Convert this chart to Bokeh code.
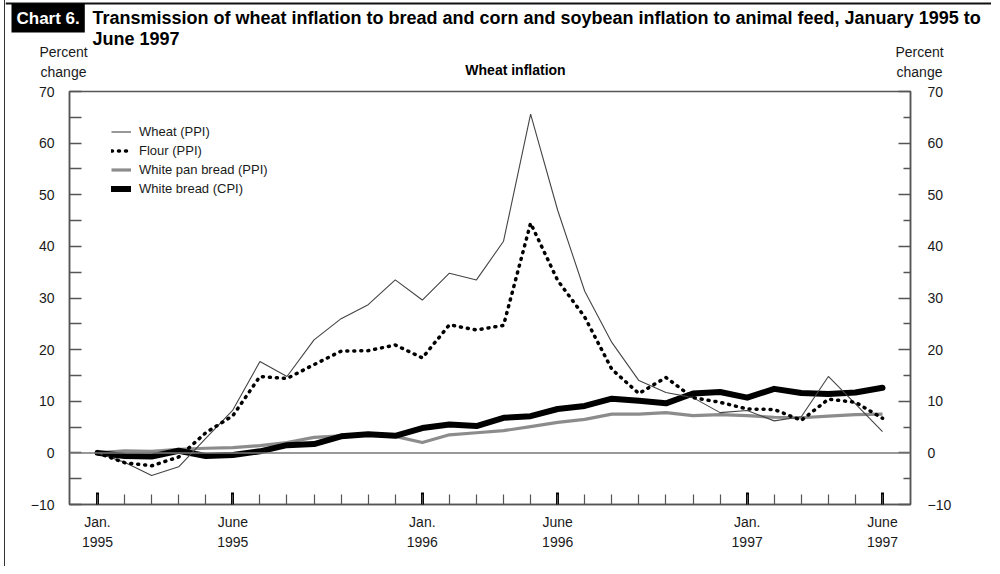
from bokeh.plotting import figure
from bokeh.layouts import column
from bokeh.models import (Range1d, LinearAxis, FixedTicker, Span, Label, Legend,
                          LegendItem, ColumnDataSource)
from bokeh.embed import file_html
from bokeh.resources import INLINE

# ---------------- data ----------------
month_labels = ["Jan 1995", "Feb 1995", "Mar 1995", "Apr 1995", "May 1995", "Jun 1995",
                "Jul 1995", "Aug 1995", "Sep 1995", "Oct 1995", "Nov 1995", "Dec 1995",
                "Jan 1996", "Feb 1996", "Mar 1996", "Apr 1996", "May 1996", "Jun 1996",
                "Jul 1996", "Aug 1996", "Sep 1996", "Oct 1996", "Nov 1996", "Dec 1996",
                "Jan 1997", "Feb 1997", "Mar 1997", "Apr 1997", "May 1997", "Jun 1997"]
month_index = list(range(len(month_labels)))

wheat = [0.0, -1.8, -4.4, -2.7, 2.8, 8.3, 17.7, 14.8, 21.9, 26.0, 28.7, 33.5, 29.6, 34.8, 33.5,
         41.0, 65.6, 47.0, 31.3, 21.4, 14.0, 11.7, 10.7, 7.8, 8.2, 6.2, 7.0, 14.8, 9.5, 4.1]
flour = [0.0, -1.9, -2.5, -0.8, 3.9, 7.2, 14.8, 14.4, 17.1, 19.7, 19.8, 20.9, 18.4, 24.8, 23.8,
         24.7, 44.5, 33.4, 26.3, 16.2, 11.5, 14.6, 10.7, 9.8, 8.5, 8.4, 6.3, 10.4, 9.8, 6.7]
pan_bread = [0.0, 0.4, 0.3, 0.7, 0.9, 1.0, 1.4, 2.0, 3.0, 3.3, 3.7, 3.2, 2.0, 3.5, 3.9,
             4.3, 5.1, 5.9, 6.5, 7.5, 7.5, 7.8, 7.2, 7.4, 7.2, 6.9, 6.8, 7.1, 7.4, 7.5]
white_bread = [0.0, -0.6, -0.7, 0.4, -0.6, -0.4, 0.3, 1.5, 1.7, 3.2, 3.6, 3.3, 4.8, 5.5, 5.2,
               6.8, 7.1, 8.5, 9.1, 10.5, 10.1, 9.6, 11.5, 11.8, 10.7, 12.4, 11.6, 11.4, 11.7, 12.6]

series_names = ["Wheat (PPI)", "Flour (PPI)", "White pan bread (PPI)", "White bread (CPI)"]

y_major_ticks = [-10, 0, 10, 20, 30, 40, 50, 60, 70]
y_minor_ticks = [-5, 5, 15, 25, 35, 45, 55, 65]
x_major_ticks = [0, 5, 12, 17, 24, 29]
x_tick_labels = ["Jan.\n1995", "June\n1995", "Jan.\n1996", "June\n1996", "Jan.\n1997", "June\n1997"]

chart_tag = "Chart 6."
title_line1 = ("Transmission of wheat inflation to bread and corn and soybean inflation to "
               "animal feed, January 1995 to")
title_line2 = "June 1997"
panel_title = "Wheat inflation"
axis_title = ["Percent", "change"]

# ---------------- layout constants ----------------
FONT = "Liberation Sans"
TXT = "#1a1a1a"
OFF = 6            # left offset created by the page border line
W = 986            # width of both stacked figures
HEAD_H = 81        # header figure height

# ---------------- header (titles) ----------------
head = figure(width=W, height=HEAD_H, output_backend="svg", toolbar_location=None,
              x_range=Range1d(OFF, OFF + W), y_range=Range1d(HEAD_H, 0),
              x_axis_location=None, y_axis_location=None, min_border=0)
head.frame_align = False
head.grid.visible = False
head.outline_line_color = None
head.border_fill_color = "white"
head.add_layout(Span(location=3, dimension="width", line_color="#111111", line_width=2))

head.add_layout(Label(x=12, y=17.5, text=chart_tag, text_font=FONT, text_font_style="bold",
                      text_font_size="17px", text_color="white", text_baseline="middle",
                      background_fill_color="black", padding=5))
for txt, yy in ((title_line1, 17.5), (title_line2, 38.5)):
    head.add_layout(Label(x=93, y=yy, text=txt, text_font=FONT,
                          text_font_style="bold", text_font_size="18px", text_color="black",
                          text_baseline="middle"))
for cx in (64, 920):
    for txt, yy in zip(axis_title, (51.5, 71)):
        head.add_layout(Label(x=cx, y=yy, text=txt, text_font=FONT, text_font_size="14px",
                              text_color=TXT, text_align="center", text_baseline="middle"))
head.add_layout(Label(x=516, y=69, text=panel_title, text_font=FONT, text_font_style="bold",
                      text_font_size="14px", text_color="black", text_align="center",
                      text_baseline="middle"))

# ---------------- main chart ----------------
src = ColumnDataSource(dict(x=month_index, wheat=wheat, flour=flour,
                            pan=pan_bread, white=white_bread))

p = figure(width=W, height=485, output_backend="svg", toolbar_location=None,
           x_range=Range1d(-1.034, 30.034), y_range=Range1d(-10, 70),
           x_axis_location=None, y_axis_location=None,
           min_border_left=70 - OFF, min_border_right=81, min_border_top=10, min_border_bottom=62)
p.frame_align = False
p.grid.visible = False
p.outline_line_color = "#555555"
p.outline_line_width = 1.5
p.background_fill_color = "white"
p.border_fill_color = "white"

left = LinearAxis(ticker=FixedTicker(ticks=y_major_ticks, minor_ticks=y_minor_ticks),
                  major_label_overrides={-10: "\u221210"})
right = LinearAxis(ticker=FixedTicker(ticks=y_major_ticks, minor_ticks=y_minor_ticks),
                   major_label_overrides={-10: "\u221210"})
for ax, minor_len, standoff in ((left, 12, 15), (right, 7, 17)):
    ax.major_tick_in = 12
    ax.major_tick_out = 0
    ax.minor_tick_in = minor_len
    ax.minor_tick_out = 0
    ax.major_label_standoff = standoff
    ax.axis_line_color = "#555555"
    ax.axis_line_width = 1.5
    ax.major_tick_line_color = "#555555"
    ax.minor_tick_line_color = "#555555"
    ax.major_tick_line_width = 1.5
    ax.minor_tick_line_width = 1.5
    ax.major_label_text_font = FONT
    ax.major_label_text_font_size = "14px"
    ax.major_label_text_color = TXT
p.add_layout(left, "left")
p.add_layout(right, "right")

bottom = LinearAxis(ticker=FixedTicker(ticks=x_major_ticks, minor_ticks=month_index),
                    major_label_overrides=dict(zip(x_major_ticks, x_tick_labels)))
bottom.major_tick_in = 12
bottom.major_tick_out = 0
bottom.major_tick_line_width = 3
bottom.major_tick_line_color = "black"
bottom.minor_tick_in = 10
bottom.minor_tick_out = 0
bottom.minor_tick_line_color = "#555555"
bottom.minor_tick_line_width = 1.2
bottom.axis_line_color = "#555555"
bottom.axis_line_width = 1.5
bottom.major_label_standoff = 9
bottom.major_label_text_font = FONT
bottom.major_label_text_font_size = "14px"
bottom.major_label_text_color = TXT
bottom.major_label_text_line_height = 1.25
p.add_layout(bottom, "below")

p.add_layout(Span(location=0, dimension="width", line_color="#777777", line_width=1.5))

r_pan = p.line("x", "pan", source=src, line_color="#8c8c8c", line_width=3.2, line_join="round")
r_white = p.line("x", "white", source=src, line_color="black", line_width=6,
                 line_join="round", line_cap="round")
r_wheat = p.line("x", "wheat", source=src, line_color="#444444", line_width=1.1)
r_flour = p.line("x", "flour", source=src, line_color="black", line_width=3.5,
                 line_dash="1 6", line_cap="round", line_join="round")

legend = Legend(items=[LegendItem(label=series_names[0], renderers=[r_wheat]),
                       LegendItem(label=series_names[1], renderers=[r_flour]),
                       LegendItem(label=series_names[2], renderers=[r_pan]),
                       LegendItem(label=series_names[3], renderers=[r_white])],
                location=(42, 306), glyph_width=20, glyph_height=19, label_height=19,
                spacing=0, padding=0, margin=0, label_standoff=8,
                border_line_color=None, background_fill_alpha=0,
                label_text_font=FONT, label_text_font_size="13px", label_text_color=TXT)
p.add_layout(legend)

layout = column(head, p, spacing=0,
                styles={"border-left": "1.5px solid #333333", "margin-left": "4px"})

open("out.html", "w").write(file_html(layout, INLINE))
